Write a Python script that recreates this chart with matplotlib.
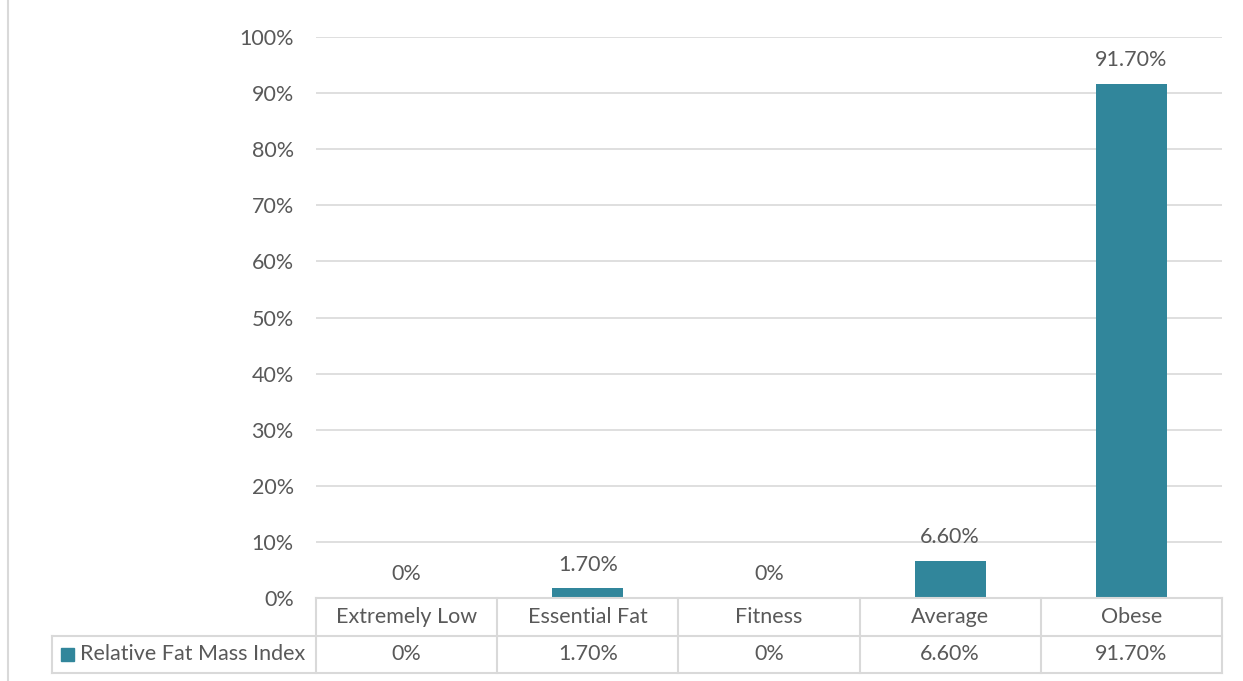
import matplotlib
matplotlib.use("Agg")
import matplotlib.pyplot as plt
from matplotlib.lines import Line2D
from matplotlib.patches import Rectangle

categories = ["Extremely Low", "Essential Fat", "Fitness", "Average", "Obese"]
values = [0.0, 1.7, 0.0, 6.6, 91.7]
labels = ["0%", "1.70%", "0%", "6.60%", "91.70%"]
series_name = "Relative Fat Mass Index"
yticks = list(range(0, 101, 10))

W, H = 1243, 681
plt.rcParams['font.family'] = ['Lato', 'DejaVu Sans']
fig = plt.figure(figsize=(W / 100, H / 100), dpi=100)

bar_color = "#31869B"
text_color = "#595959"
grid_color = "#D9D9D9"
fs = 15.5

def fx(px):
    return px / W

def fy(py):
    return 1 - py / H

ax_l, ax_r, ax_t, ax_b = 316, 1222, 37, 598
ax = fig.add_axes([fx(ax_l), fy(ax_b), (ax_r - ax_l) / W, (ax_b - ax_t) / H])
x = list(range(len(categories)))
ax.bar(x, values, width=0.39, color=bar_color, zorder=3)
ax.set_xlim(-0.5, len(categories) - 0.5)
ax.set_ylim(0, 100)
ax.set_yticks(yticks)
ax.set_yticklabels([f"{t}%" for t in yticks], color=text_color, fontsize=fs)
ax.tick_params(axis='y', length=0, pad=16)
ax.set_xticks([])
for s in ax.spines.values():
    s.set_visible(False)
ax.yaxis.grid(True, color=grid_color, linewidth=1.2, zorder=0)
ax.set_axisbelow(True)

for xi, v, lab in zip(x, values, labels):
    ax.annotate(lab, (xi, v), xytext=(0, 10), textcoords='offset points',
                ha='center', va='bottom', color=text_color, fontsize=fs)

# data table
row1_top, row1_bot, row2_bot = 598, 636, 673
legend_left = 52
col_w = (ax_r - ax_l) / len(categories)
lines = []
lines.append(((ax_l, row1_top), (ax_r, row1_top)))
lines.append(((legend_left, row1_bot), (ax_r, row1_bot)))
lines.append(((legend_left, row2_bot), (ax_r, row2_bot)))
lines.append(((legend_left, row1_bot), (legend_left, row2_bot)))
for i in range(len(categories) + 1):
    xp = ax_l + i * col_w
    lines.append(((xp, row1_top), (xp, row2_bot)))
for (x0, y0), (x1, y1) in lines:
    fig.add_artist(Line2D([fx(x0), fx(x1)], [fy(y0), fy(y1)], color=grid_color,
                          linewidth=1.5))

for i, (cat, lab) in enumerate(zip(categories, labels)):
    xc = ax_l + (i + 0.5) * col_w
    fig.text(fx(xc), fy((row1_top + row1_bot) / 2), cat, ha='center', va='center',
             color=text_color, fontsize=fs)
    fig.text(fx(xc), fy((row1_bot + row2_bot) / 2), lab, ha='center', va='center',
             color=text_color, fontsize=fs)

fig.add_artist(Rectangle((fx(61), fy(661)), 13 / W, 13 / H, color=bar_color,
                         transform=fig.transFigure))
fig.text(fx(80), fy((row1_bot + row2_bot) / 2), series_name, ha='left', va='center',
         color=text_color, fontsize=fs)

# chart border
fig.add_artist(Line2D([fx(8), fx(8)], [0, 1], color=grid_color, linewidth=1.5))

fig.savefig("out.png", dpi=100)
